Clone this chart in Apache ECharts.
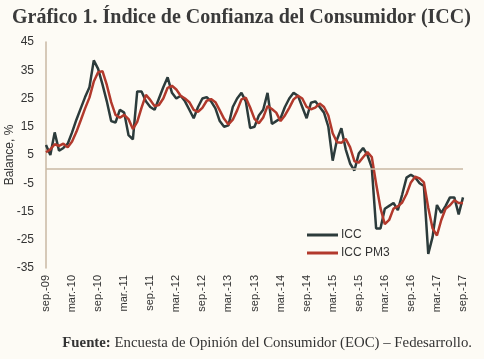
<!DOCTYPE html>
<html>
<head>
<meta charset="utf-8">
<script src="https://cdn.jsdelivr.net/npm/echarts@6/dist/echarts.min.js"></script>
<style>
html,body{margin:0;padding:0;background:#fdfbf5;}
#c{width:484px;height:359px;}
</style>
</head>
<body>
<div id="c"></div>
<script>
const monthNames = ['ene.','feb.','mar.','abr.','may.','jun.','jul.','ago.','sep.','oct.','nov.','dic.'];
const startYear = 2009, startMonth = 8, nMonths = 97;
const categories = [];
for (let k = 0; k < nMonths; k++) {
  const m = (startMonth + k) % 12;
  const y = startYear + Math.floor((startMonth + k) / 12);
  categories.push(monthNames[m] + '-' + String(y % 100).padStart(2, '0'));
}
const yTicks = { min: -35, max: 45, interval: 10 };

const icc = [8.5,5,13,6.5,7.5,9,13,17.5,21.5,25.5,29,38.5,35.5,30,24,17,16.5,21,20,12,10.5,27.5,27.5,24,22,21,25,29,32.5,27,25,26,24,21,18,22,25,25.5,24,21.5,17,15,15.5,22,25,27,24,14.5,15,19,21,27,16,17,18,22,25,27,26,22,18,23.5,24,22,20,15,3,10.5,14.5,7,2,-0.5,5.5,7.5,5,0.5,-21,-21,-14,-13,-12,-14.5,-9,-3,-2,-3,-5,-6,-30,-24,-12.7,-15.5,-13,-10,-10,-16,-10];
const iccPm3 = [6,7,8.8,8.2,9,7.7,9.8,13.2,17.3,21.5,25.3,31,34.3,34.7,29.8,23.7,19.2,18.2,19.2,17.7,14.2,16.7,21.8,26.3,24.5,22.3,22.7,25,28.8,29.5,28.2,26,25,23.7,21,20.3,21.7,24.2,24.8,23.7,20.8,17.8,15.8,17.5,20.8,24.7,25.3,21.8,17.8,16.2,18.3,22.3,21.3,20,17,19,21.7,24.7,26,25,22,21.2,21.8,23.2,22,19,12.7,9.5,9.3,10.7,7.8,2.8,2.3,4.2,6,4.3,-5.2,-13.8,-19.5,-18,-14,-13.2,-11.8,-8.8,-4.7,-2.7,-3.3,-4.7,-13.7,-21,-23.5,-18,-14,-12.8,-11,-12,-12];

const chart = echarts.init(document.getElementById('c'), null, {renderer: 'canvas'});
chart.setOption({
  backgroundColor: '#fdfbf5',
  animation: false,
  title: {
    text: 'Gráfico 1. Índice de Confianza del Consumidor (ICC)',
    left: 7, top: 3,
    textStyle: { fontFamily: 'Liberation Serif', fontWeight: 'bold', fontSize: 20, color: '#3a3a3a' }
  },
  grid: { left: 46, right: 21, top: 42, bottom: 91, containLabel: false, outerBoundsMode: 'none' },
  legend: {
    orient: 'vertical', left: 302, top: 224, itemGap: 6,
    itemWidth: 31, itemHeight: 3, icon: 'rect',
    textStyle: { fontFamily: 'Liberation Sans', fontSize: 12, color: '#333', padding: [0,0,0,-2] },
    data: ['ICC', 'ICC PM3']
  },
  xAxis: {
    type: 'category', data: categories, boundaryGap: false,
    axisLine: { show: false }, axisTick: { show: false },
    axisLabel: { interval: 5, rotate: 90, fontFamily: 'Liberation Sans', fontSize: 11, color: '#333', margin: 7 }
  },
  yAxis: {
    type: 'value', min: yTicks.min, max: yTicks.max, interval: yTicks.interval,
    name: 'Balance, %', nameLocation: 'middle', nameGap: 30, nameRotate: 90, nameMoveOverlap: false,
    nameTextStyle: { fontFamily: 'Liberation Sans', fontSize: 12, color: '#333' },
    axisLine: { show: true, onZero: false, lineStyle: { color: '#c9b9a3', width: 1.5 } },
    axisTick: { show: false }, splitLine: { show: false },
    axisLabel: { fontFamily: 'Liberation Sans', fontSize: 12, color: '#333', margin: 12 }
  },
  series: [
    {
      name: 'ICC', type: 'line', data: icc, showSymbol: false, symbol: 'none',
      lineStyle: { color: '#2c3b3b', width: 2.5 }, itemStyle: { color: '#2c3b3b' },
      markLine: {
        silent: true, symbol: 'none', label: { show: false },
        lineStyle: { color: '#c9b9a3', width: 1.5, type: 'solid' },
        data: [{ yAxis: 0 }]
      }
    },
    {
      name: 'ICC PM3', type: 'line', data: iccPm3, showSymbol: false, symbol: 'none',
      lineStyle: { color: '#b2392c', width: 2.5 }, itemStyle: { color: '#b2392c' }
    }
  ],
  graphic: [{
    type: 'text', right: 12, top: 336,
    style: {
      text: '{b|Fuente:} Encuesta de Opinión del Consumidor (EOC) – Fedesarrollo.',
      rich: {
        b: { fontFamily: 'Liberation Serif', fontWeight: 'bold', fontSize: 14.8, fill: '#333' }
      },
      fontFamily: 'Liberation Serif', fontSize: 14.8, fill: '#333'
    }
  }]
});
</script>
</body>
</html>
